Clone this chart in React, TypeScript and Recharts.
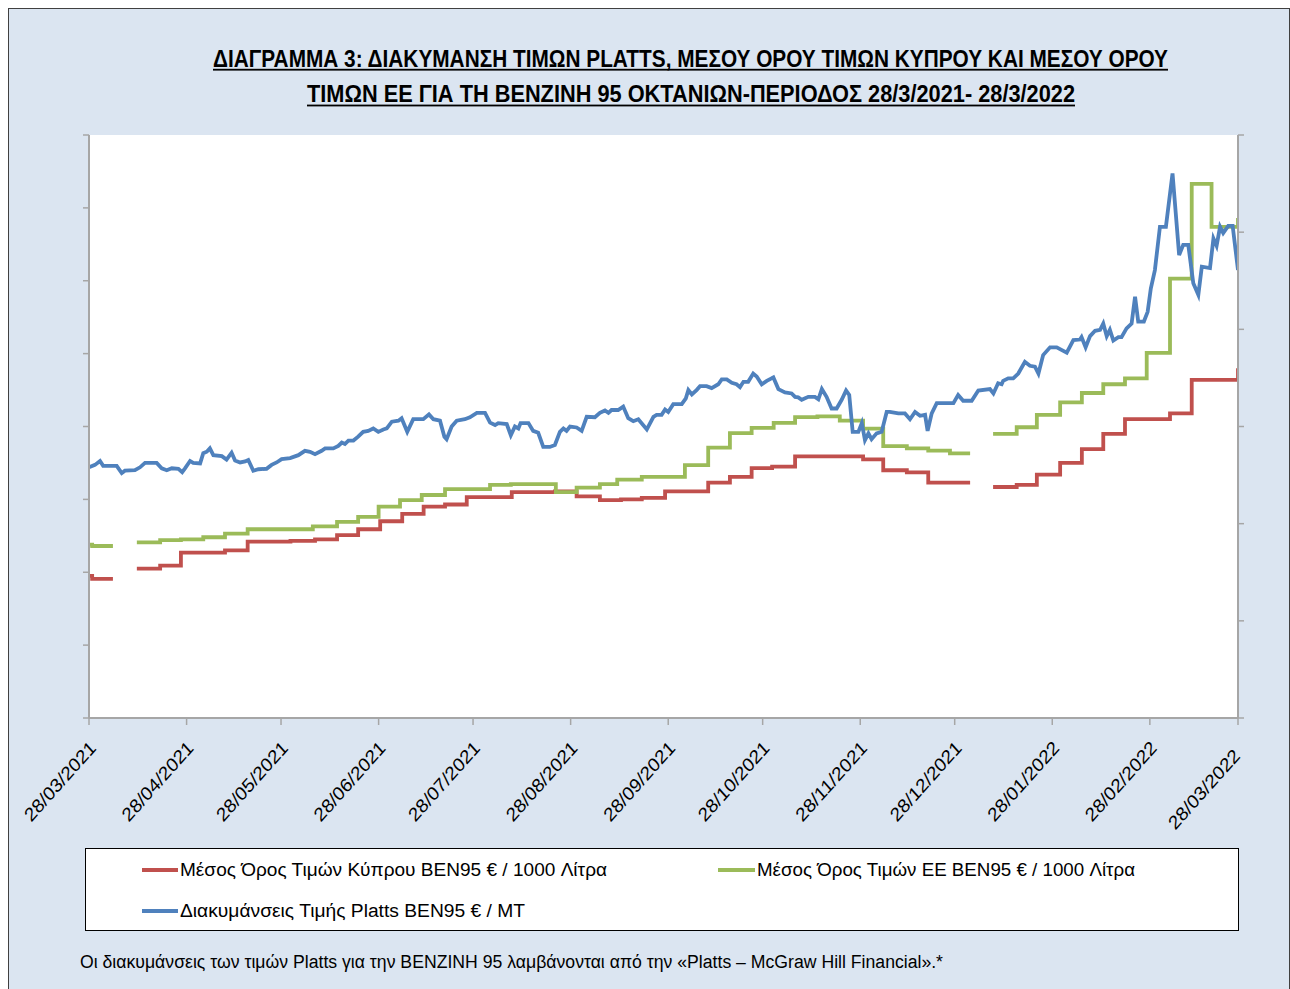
import React from 'react'
import { LineChart, Line, XAxis, YAxis, CartesianGrid } from 'recharts'

// x = days since 28/03/2021
const tickDays = [0, 31, 61, 92, 122, 153, 184, 214, 245, 275, 306, 337, 365]
const tickLabels = [
  '28/03/2021', '28/04/2021', '28/05/2021', '28/06/2021', '28/07/2021', '28/08/2021', '28/09/2021',
  '28/10/2021', '28/11/2021', '28/12/2021', '28/01/2022', '28/02/2022', '28/03/2022',
]
const leftTicks = [1000, 1100, 1200, 1300, 1400, 1500, 1600, 1700, 1800]
const rightTicks = [0, 200, 400, 600, 800, 1000, 1200]

// Μέσος Όρος Τιμών Κύπρου BEN95 € / 1000 Λίτρα (weekly steps)
const cyprusPrice: [number, number | null][] = [
  [0, 1195], [1, 1191], [7.6, 1191], [11, null],
  [15.2, 1205], [22.6, 1209], [29.2, 1227], [43.2, 1230], [50.4, 1242], [64, 1243], [71.8, 1245],
  [78.8, 1251], [85.5, 1259], [92.5, 1270], [99.5, 1280], [106.3, 1290], [113.1, 1293], [120, 1303],
  [134.3, 1310], [148, 1311], [154.9, 1304], [162.3, 1299], [169, 1300], [175.6, 1302], [183, 1311],
  [196.7, 1323], [203.6, 1331], [210.5, 1343], [217, 1345], [224.3, 1359], [245.9, 1355], [252.3, 1340],
  [259.8, 1337], [266.6, 1323], [279.9, 1323], [283, null],
  [287.2, 1317], [294.7, 1320], [301.1, 1334], [308.5, 1350], [315.4, 1369], [322.2, 1390], [329.1, 1410],
  [343.4, 1418], [350.3, 1464], [363.8, 1464], [365, 1480],
]

// Μέσος Όρος Τιμών ΕΕ BEN95 € / 1000 Λίτρα (weekly steps)
const euPrice: [number, number | null][] = [
  [0, 1238], [1, 1236], [7.6, 1236], [11, null],
  [15.2, 1241], [22.6, 1244], [29.2, 1245], [36.3, 1248], [43.2, 1253], [50.4, 1259], [71.1, 1263],
  [78.8, 1269], [85.5, 1276], [92, 1290], [98.8, 1299], [105.7, 1306], [113.1, 1314], [127.4, 1320],
  [134, 1321], [148.3, 1310], [154.9, 1316], [162.3, 1321], [167.8, 1327], [175.6, 1331], [189.3, 1347],
  [196.7, 1371], [203.6, 1391], [210.5, 1398], [217.5, 1405], [224.3, 1413], [231.4, 1414], [238.5, 1408],
  [245.9, 1397], [252.3, 1373], [259.8, 1370], [266.6, 1367], [273.5, 1363], [279.9, 1363], [283, null],
  [287.2, 1390], [294.7, 1399], [301.1, 1416], [308.5, 1433], [315.4, 1446], [322.2, 1458], [329.1, 1466],
  [336, 1501], [343.4, 1603], [350.3, 1733], [356.6, 1674], [363.3, 1674], [365, 1686],
]

// Διακυμάνσεις Τιμής Platts BEN95 € / MT
const plattsPrice: [number, number][] = [
  [0, 516], [1.9, 521], [3.5, 529], [4.5, 519], [8.8, 519], [10.4, 504], [11.4, 509], [14.6, 510], [16.2, 516], [17.8, 525],
  [21.5, 525], [23.1, 514], [24.7, 510], [26.3, 514], [28.4, 513], [29.6, 506], [30.5, 514], [32.1, 529], [33.1, 525], [35.3, 524],
  [36.3, 545], [37.4, 548], [38.4, 555], [39.5, 541], [42.2, 539], [43.7, 532], [45.3, 546], [46.4, 530], [48, 526], [49.6, 528],
  [50.6, 531], [52.2, 509], [53.8, 512], [56.4, 513], [58, 521], [59.6, 526], [61.2, 533], [63.9, 535], [66.5, 541], [68.6, 550],
  [70.2, 548], [71.8, 543], [73.9, 550], [75, 555], [77.6, 555], [79.2, 560], [80.3, 567], [81.3, 564], [82.4, 571], [84, 571],
  [85.5, 579], [87.1, 589], [88.7, 591], [90.3, 596], [91.9, 589], [93.5, 594], [94.6, 596], [96.2, 610], [98.3, 612], [99.3, 617],
  [101.1, 589], [103, 615], [106.2, 615], [108, 625], [109.4, 615], [111.5, 612], [112.9, 579], [113.6, 574], [115.2, 600], [116.8, 612],
  [119.4, 615], [121, 619], [123.2, 628], [125.8, 628], [127.4, 608], [129, 603], [130, 607], [132.7, 605], [134, 582], [135.3, 600],
  [136.4, 596], [137.1, 607], [139.6, 607], [141.1, 591], [142.7, 587], [144.3, 558], [146.4, 558], [148, 562], [149.6, 589], [150.7, 596],
  [151.7, 591], [152.8, 600], [154.9, 598], [156.5, 591], [158.1, 620], [160.7, 619], [162.3, 628], [163.9, 633], [165, 628], [166, 634],
  [168.1, 634], [169.7, 641], [171.3, 617], [172.9, 611], [174.5, 615], [177.2, 594], [179.3, 620], [180.3, 624], [181.9, 624], [183, 635],
  [184, 630], [185.6, 646], [188.3, 646], [189.6, 658], [190.4, 675], [191.5, 666], [193, 675], [194.1, 683], [196.2, 683], [197.8, 679],
  [199.9, 687], [201, 697], [202.6, 697], [204.2, 690], [205.7, 687], [206.8, 681], [207.9, 692], [209.4, 692], [211, 709], [212.1, 703],
  [213.7, 687], [215.3, 694], [217.4, 701], [219, 677], [221.1, 670], [223.2, 668], [224.3, 661], [225.3, 660], [226.4, 655], [228.5, 661],
  [230.6, 661], [231.7, 656], [232.8, 677], [234.3, 661], [235.9, 637], [237.5, 637], [239.1, 655], [240.5, 674], [241.5, 665], [242.6, 589],
  [244.4, 589], [245.5, 607], [246.5, 572], [247.6, 586], [248.6, 574], [250.2, 586], [251.8, 589], [253.4, 630], [254.4, 630], [257.1, 627],
  [259.2, 627], [260.8, 615], [262.4, 630], [264, 622], [265.6, 624], [266.4, 591], [267.7, 627], [269.3, 648], [272.4, 648], [274.6, 648],
  [276.1, 665], [277.7, 653], [280.4, 653], [282.5, 674], [286.2, 677], [287.3, 668], [288.8, 689], [289.9, 687], [290.4, 694], [292, 699],
  [293.6, 699], [295.2, 709], [297.3, 733], [298.9, 725], [300.5, 723], [301.6, 709], [303.1, 747], [305.3, 763], [307.4, 763], [310.6, 752],
  [312.7, 778], [314.8, 779], [315.3, 784], [316.6, 763], [318, 786], [319.6, 797], [321.2, 799], [322.2, 812], [323.3, 786], [324.3, 799],
  [325.4, 777], [327, 784], [328, 784], [329.6, 802], [331.2, 812], [332.3, 867], [333.3, 816], [335.1, 816], [336.3, 836], [337.3, 884],
  [338.6, 922], [340.2, 1011], [342.1, 1011], [344.2, 1121], [346.3, 953], [347.6, 974], [349.2, 974], [350.8, 895], [352.4, 871], [353.5, 929],
  [356.1, 926], [357.2, 987], [358.2, 972], [359.3, 1011], [360.3, 998], [361.9, 1013], [363.3, 1013], [365, 922],
]

const RED = '#c0504d'
const GREEN = '#9bbb59'
const BLUE = '#4f81bd'
const AXIS = '#a6a6a6'
const FONT = "'Liberation Sans Narrow', 'Liberation Sans', Arial, sans-serif"

const toRows = (pts: [number, number | null][]) => pts.map(([day, v]) => ({ day, v }))

// the source picture is a little taller than wide, so text gets a vertical stretch
const STRETCH = 1.12

const DateTick = ({ x, y, payload }: any) => {
  const i = tickDays.indexOf(payload.value)
  const last = i === tickDays.length - 1
  const ax = x + (last ? 3 : 8)
  const ay = y + (last ? 30 : 22)
  return (
    <text
      x={0}
      y={0}
      transform={`translate(${ax} ${ay}) scale(1 ${STRETCH}) rotate(-45)`}
      textAnchor="end"
      fontSize={17}
      fontFamily={FONT}
      fill="#000"
      textLength={93}
      lengthAdjust="spacingAndGlyphs"
    >
      {tickLabels[i]}
    </text>
  )
}

const NoLabel = () => <g />

const Stretched = ({ x, y, size, width, bold, children }: any) => (
  <text
    x={0}
    y={0}
    transform={`translate(${x} ${y}) scale(1 ${STRETCH})`}
    fontSize={size}
    fontWeight={bold ? 'bold' : 'normal'}
    textLength={width}
    lengthAdjust="spacingAndGlyphs"
    fill="#000"
  >
    {children}
  </text>
)

export default function App() {
  return (
    <div
      style={{
        position: 'fixed',
        left: 8,
        top: 8,
        width: 1280,
        height: 995,
        background: '#dbe5f1',
        border: '1px solid #404040',
        fontFamily: FONT,
      }}
    >
      <div style={{ position: 'absolute', left: 0, top: 0 }}>
        <LineChart width={1280} height={830} margin={{ top: 126, right: 0, bottom: 0, left: 0 }}>
          <CartesianGrid fill="#ffffff" horizontal={false} vertical={false} stroke="none" />
          <XAxis
            type="number"
            dataKey="day"
            domain={[0, 365]}
            ticks={tickDays}
            interval={0}
            allowDataOverflow
            height={121}
            tickSize={7}
            axisLine={{ stroke: AXIS, strokeWidth: 2 }}
            tickLine={{ stroke: AXIS, strokeWidth: 1.5 }}
            tick={<DateTick />}
          />
          <YAxis
            yAxisId="left"
            orientation="left"
            width={80}
            domain={[1000, 1800]}
            ticks={leftTicks}
            interval={0}
            allowDataOverflow
            tickSize={6}
            axisLine={{ stroke: AXIS, strokeWidth: 2 }}
            tickLine={{ stroke: AXIS, strokeWidth: 1.5 }}
            tick={NoLabel}
          />
          <YAxis
            yAxisId="right"
            orientation="right"
            width={51}
            domain={[0, 1200]}
            ticks={rightTicks}
            interval={0}
            allowDataOverflow
            tickSize={6}
            axisLine={{ stroke: AXIS, strokeWidth: 2 }}
            tickLine={{ stroke: AXIS, strokeWidth: 1.5 }}
            tick={NoLabel}
          />
          <Line
            yAxisId="left"
            data={toRows(cyprusPrice)}
            dataKey="v"
            type="stepAfter"
            stroke={RED}
            strokeWidth={3.8}
            dot={false}
            connectNulls={false}
            isAnimationActive={false}
          />
          <Line
            yAxisId="left"
            data={toRows(euPrice)}
            dataKey="v"
            type="stepAfter"
            stroke={GREEN}
            strokeWidth={3.8}
            dot={false}
            connectNulls={false}
            isAnimationActive={false}
          />
          <Line
            yAxisId="right"
            data={toRows(plattsPrice)}
            dataKey="v"
            type="linear"
            stroke={BLUE}
            strokeWidth={3.8}
            dot={false}
            isAnimationActive={false}
          />
        </LineChart>
      </div>

      <svg
        width={1280}
        height={995}
        style={{ position: 'absolute', left: 0, top: 0, pointerEvents: 'none', whiteSpace: 'pre' }}
        fontFamily={FONT}
      >
        <Stretched x={204} y={57.5} size={21} width={955} bold>
          ΔΙΑΓΡΑΜΜΑ 3: ΔΙΑΚΥΜΑΝΣΗ ΤΙΜΩΝ PLATTS, ΜΕΣΟΥ ΟΡΟΥ ΤΙΜΩΝ ΚΥΠΡΟΥ ΚΑΙ ΜΕΣΟΥ ΟΡΟΥ
        </Stretched>
        <rect x={204} y={59.8} width={955} height={1.8} fill="#000" />
        <Stretched x={298} y={93.3} size={21} width={768} bold>
          ΤΙΜΩΝ ΕΕ ΓΙΑ ΤΗ ΒΕΝΖΙΝΗ 95 ΟΚΤΑΝΙΩΝ-ΠΕΡΙΟΔΟΣ  28/3/2021- 28/3/2022
        </Stretched>
        <rect x={298} y={95.6} width={768} height={1.8} fill="#000" />

        <rect x={76.5} y={839.5} width={1153} height={82} fill="#ffffff" stroke="#000" strokeWidth={1} />
        <line x1={133} x2={169} y1={861} y2={861} stroke={RED} strokeWidth={4} />
        <Stretched x={171} y={867} size={17} width={427}>
          Μέσος Όρος Τιμών Κύπρου BEN95 € / 1000 Λίτρα
        </Stretched>
        <line x1={709} x2={746} y1={861} y2={861} stroke={GREEN} strokeWidth={4} />
        <Stretched x={748} y={867} size={17} width={378}>
          Μέσος Όρος Τιμών ΕΕ BEN95 € / 1000 Λίτρα
        </Stretched>
        <line x1={133} x2={169} y1={902} y2={902} stroke={BLUE} strokeWidth={4} />
        <Stretched x={171} y={908} size={17} width={345}>
          Διακυμάνσεις Τιμής Platts BEN95 € / MT
        </Stretched>

        <Stretched x={71} y={959} size={17} width={863}>
          Οι διακυμάνσεις των τιμών Platts για την ΒΕΝΖΙΝΗ 95 λαμβάνονται από την «Platts – McGraw Hill Financial».*
        </Stretched>
      </svg>
    </div>
  )
}
